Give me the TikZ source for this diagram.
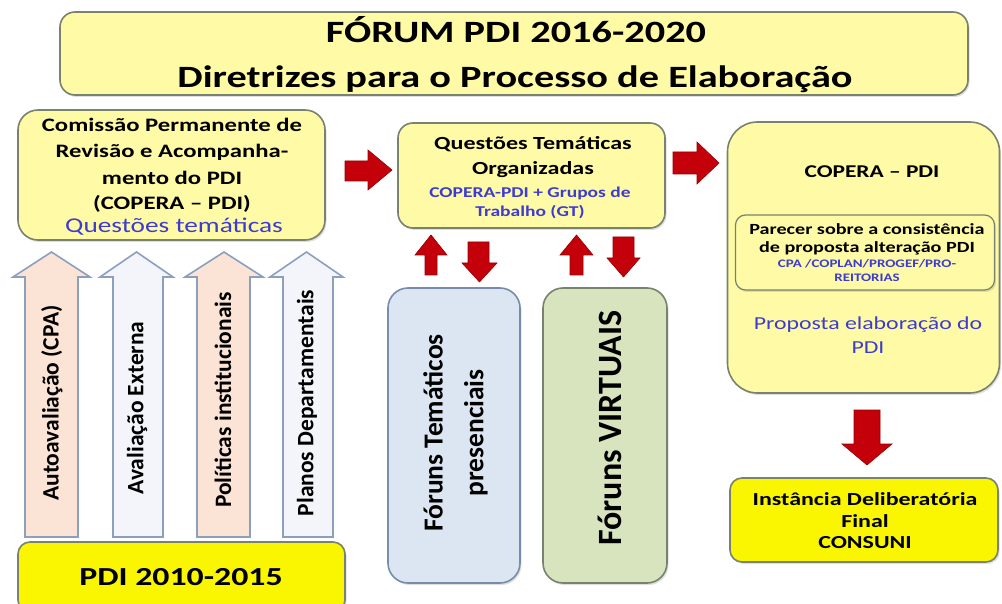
\documentclass[tikz,border=0pt]{standalone}
\usepackage{fontspec}
\setmainfont{Carlito}
\usepackage{graphicx}
\usetikzlibrary{shadows}
\definecolor{ly}{RGB}{255,250,165}
\definecolor{by}{RGB}{250,245,0}
\definecolor{bd}{RGB}{120,130,110}
\definecolor{rd}{RGB}{196,0,10}
\definecolor{rde}{RGB}{150,0,0}
\definecolor{peach}{RGB}{251,228,214}
\definecolor{pale}{RGB}{244,245,250}
\definecolor{abd}{RGB}{140,160,190}
\definecolor{bluebox}{RGB}{220,230,242}
\definecolor{bluebd}{RGB}{120,140,170}
\definecolor{greenbox}{RGB}{215,228,189}
\definecolor{txtblue}{RGB}{60,60,210}
\tikzset{
  box/.style={draw=bd, line width=1.6pt, inner sep=0pt,
    drop shadow={shadow xshift=1.5pt, shadow yshift=-2pt, opacity=0.25}},
  redarr/.style={fill=rd, draw=rde, line width=0.6pt},
  tallarr/.style={draw=abd, line width=1.6pt},
  txt/.style={inner sep=0pt, anchor=base, xscale=1.3},
  rtxt/.style={inner sep=0pt, rotate=90},
}
\begin{document}
\begin{tikzpicture}[x=1pt,y=-1pt]
\useasboundingbox[fill=white] (0,0) rectangle (1002,604);
% boxes
\node[box, fill=ly, rounded corners=15pt, minimum width=908pt, minimum height=83pt] (title) at (514,53.5) {};
\node[box, fill=ly, rounded corners=20pt, minimum width=307pt, minimum height=130pt] (copera) at (171.5,175) {};
\node[box, fill=ly, rounded corners=15pt, minimum width=267pt, minimum height=105pt] (quest) at (531.5,175.5) {};
\node[box, fill=ly, rounded corners=30pt, minimum width=272pt, minimum height=271pt] (right) at (863.5,257.5) {};
\node[box, fill=ly, rounded corners=10pt, line width=1.2pt, minimum width=259pt, minimum height=75pt] (parecer) at (865,252.5) {};
\node[box, fill=by, rounded corners=12pt, minimum width=268pt, minimum height=84pt] (consuni) at (864,520) {};
\node[box, fill=by, rounded corners=12pt, minimum width=327pt, minimum height=70pt] (pdi) at (181.5,577) {};
\node[box, draw=bluebd, fill=bluebox, rounded corners=20pt, minimum width=132pt, minimum height=295pt] (pres) at (454,435.5) {};
\node[box, fill=greenbox, rounded corners=20pt, minimum width=124pt, minimum height=295pt] (virt) at (605,435.5) {};
% title text
\node[txt, font=\bfseries\fontsize{31}{31}\selectfont] (t1) at (516,43) {FÓRUM PDI 2016-2020};
\node[txt, font=\bfseries\fontsize{31}{31}\selectfont] (t2) at (515,88) {Diretrizes para o Processo de Elaboração};
% left box text
\node[txt, font=\bfseries\fontsize{19}{19}\selectfont] (c1) at (172,132) {Comissão Permanente de};
\node[txt, font=\bfseries\fontsize{19}{19}\selectfont] (c2) at (172,158) {Revisão e  Acompanha-};
\node[txt, font=\bfseries\fontsize{19}{19}\selectfont] (c3) at (172,185) {mento do PDI};
\node[txt, font=\bfseries\fontsize{19}{19}\selectfont] (c4) at (172,210) {(COPERA – PDI)};
\node[txt, text=txtblue, font=\fontsize{21}{21}\selectfont] (c5) at (174,233) {Questões temáticas};
% middle box text
\node[txt, font=\bfseries\fontsize{18.5}{18.5}\selectfont] (q1) at (533,150) {Questões Temáticas};
\node[txt, font=\bfseries\fontsize{18.5}{18.5}\selectfont] (q2) at (533,175) {Organizadas};
\node[txt, text=txtblue, font=\bfseries\fontsize{15}{15}\selectfont] (q3) at (530,198) {COPERA-PDI  + Grupos de};
\node[txt, text=txtblue, font=\bfseries\fontsize{15}{15}\selectfont] (q4) at (530,217) {Trabalho  (GT)};
% right box text
\node[txt, font=\bfseries\fontsize{18}{18}\selectfont] (r1) at (872,178) {COPERA – PDI};
\node[txt, font=\bfseries\fontsize{15.5}{15.5}\selectfont] (r2) at (867,235) {Parecer sobre a consistência};
\node[txt, font=\bfseries\fontsize{15.5}{15.5}\selectfont] (r3) at (867,253) {de proposta alteração  PDI};
\node[txt, text=txtblue, font=\bfseries\fontsize{11.5}{11.5}\selectfont] (r4) at (867,268) {CPA /COPLAN/PROGEF/PRO-};
\node[txt, text=txtblue, font=\bfseries\fontsize{11.5}{11.5}\selectfont] (r5) at (867,282) {REITORIAS};
\node[txt, text=txtblue, font=\fontsize{18.3}{18.3}\selectfont] (r6) at (868,330) {Proposta elaboração do};
\node[txt, text=txtblue, font=\fontsize{18.3}{18.3}\selectfont] (r7) at (868,353) {PDI};
% bottom right
\node[txt, font=\bfseries\fontsize{18.4}{18.4}\selectfont] (d1) at (865,505) {Instância  Deliberatória};
\node[txt, font=\bfseries\fontsize{18.4}{18.4}\selectfont] (d2) at (865,527) {Final};
\node[txt, font=\bfseries\fontsize{18.4}{18.4}\selectfont] (d3) at (865,548) {CONSUNI};
% bottom left
\node[txt, font=\bfseries\fontsize{26}{26}\selectfont] (p1) at (181,585) {PDI 2010-2015};
% tall arrows
\draw[tallarr, fill=peach] (25,537) -- (25,277) -- (13,277) -- (51.5,252) -- (90,277) -- (78,277) -- (78,537) -- cycle;
\draw[tallarr, fill=pale] (113,537) -- (113,277) -- (100,277) -- (136.5,252) -- (173,277) -- (163,277) -- (163,537) -- cycle;
\draw[tallarr, fill=peach] (197,537) -- (197,277) -- (185,277) -- (224,252) -- (263,277) -- (250,277) -- (250,537) -- cycle;
\draw[tallarr, fill=pale] (283,537) -- (283,277) -- (270,277) -- (306.5,252) -- (343,277) -- (333,277) -- (333,537) -- cycle;
\node[rtxt, font=\bfseries\fontsize{23.5}{23.5}\selectfont] (a1) at (52,403) {Autoavaliação  (CPA)};
\node[rtxt, font=\bfseries\fontsize{23.5}{23.5}\selectfont] (a2) at (137,408) {Avaliação  Externa};
\node[rtxt, font=\bfseries\fontsize{23.5}{23.5}\selectfont] (a3) at (223,400) {Políticas  institucionais};
\node[rtxt, font=\bfseries\fontsize{23.5}{23.5}\selectfont] (a4) at (307,403) {Planos  Departamentais};
% forum texts
\node[rtxt, font=\bfseries\fontsize{27.5}{27.5}\selectfont] (f1) at (433,433) {Fóruns Temáticos};
\node[rtxt, font=\bfseries\fontsize{27.5}{27.5}\selectfont] (f2) at (476,433) {presenciais};
\node[rtxt, font=\bfseries\fontsize{34}{34}\selectfont] (f3) at (610,428) {Fóruns  VIRTUAIS};
% red arrows
\draw[redarr] (345,161) -- (368,161) -- (368,150) -- (392,170) -- (368,190) -- (368,181) -- (345,181) -- cycle;
\draw[redarr] (673,152) -- (697,152) -- (697,142) -- (719,163) -- (697,184) -- (697,174) -- (673,174) -- cycle;
\draw[redarr] (425,275) -- (425,255) -- (415,255) -- (431,235) -- (447,255) -- (437,255) -- (437,275) -- cycle;
\draw[redarr] (468,242) -- (468,263) -- (462,263) -- (479.5,282) -- (497,263) -- (489,263) -- (489,242) -- cycle;
\draw[redarr] (570,275) -- (570,255) -- (560,255) -- (576.5,235) -- (593,255) -- (583,255) -- (583,275) -- cycle;
\draw[redarr] (613,237) -- (613,258) -- (607,258) -- (623.5,277) -- (640,258) -- (634,258) -- (634,237) -- cycle;
\draw[redarr] (854,410) -- (854,444) -- (842,444) -- (867,465) -- (892,444) -- (880,444) -- (880,410) -- cycle;
\end{tikzpicture}
\end{document}
